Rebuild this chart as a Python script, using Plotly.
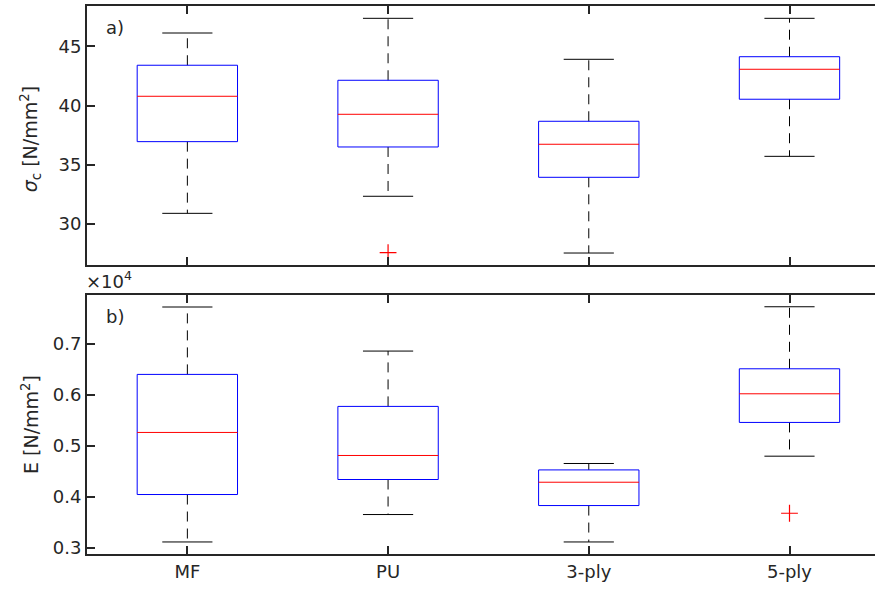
import plotly.graph_objects as go

categories = ["MF", "PU", "3-ply", "5-ply"]

# Panel a) compressive strength sigma_c [N/mm^2]
sigma_lower = [30.90, 32.34, 27.55, 35.71]
sigma_q1 = [36.95, 36.50, 33.94, 40.53]
sigma_median = [40.78, 39.26, 36.73, 43.06]
sigma_q3 = [43.40, 42.13, 38.67, 44.12]
sigma_upper = [46.12, 47.36, 43.90, 47.36]
sigma_outlier_cat = ["PU"]
sigma_outlier_val = [27.58]

# Panel b) modulus E [N/mm^2]
E_lower = [3118, 3655, 3118, 4798]
E_q1 = [4047, 4341, 3831, 5459]
E_median = [5263, 4812, 4288, 6020]
E_q3 = [6400, 5773, 4529, 6510]
E_upper = [7720, 6857, 4655, 7725]
E_outlier_cat = ["5-ply"]
E_outlier_val = [3680]

E_tickvals = [3000, 4000, 5000, 6000, 7000]
E_ticktext = ["0.3", "0.4", "0.5", "0.6", "0.7"]
sigma_tickvals = [30, 35, 40, 45]

INK = "#262626"
FONT = "DejaVu Sans, sans-serif"
BOX_HALF = 0.25
CAP_HALF = 0.125

fig = go.Figure()


def add_boxes(lower, q1, med, q3, upper, out_cat, out_val, xa, ya):
    bx, by, mx, my, wx, wy, cx, cy = [], [], [], [], [], [], [], []
    for i in range(len(categories)):
        p = i + 1
        bx += [p - BOX_HALF, p + BOX_HALF, p + BOX_HALF, p - BOX_HALF, p - BOX_HALF, None]
        by += [q1[i], q1[i], q3[i], q3[i], q1[i], None]
        mx += [p - BOX_HALF, p + BOX_HALF, None]
        my += [med[i], med[i], None]
        wx += [p, p, None, p, p, None]
        wy += [q3[i], upper[i], None, q1[i], lower[i], None]
        cx += [p - CAP_HALF, p + CAP_HALF, None, p - CAP_HALF, p + CAP_HALF, None]
        cy += [upper[i], upper[i], None, lower[i], lower[i], None]
    common = dict(xaxis=xa, yaxis=ya, mode="lines", showlegend=False, hoverinfo="skip")
    fig.add_trace(go.Scatter(x=wx, y=wy, line=dict(color="black", width=1, dash="10px,7px"), **common))
    fig.add_trace(go.Scatter(x=cx, y=cy, line=dict(color="black", width=1), **common))
    fig.add_trace(go.Scatter(x=bx, y=by, line=dict(color="#0000FF", width=1), **common))
    fig.add_trace(go.Scatter(x=mx, y=my, line=dict(color="#FF0000", width=1), **common))
    ox = [categories.index(c) + 1 for c in out_cat]
    fig.add_trace(go.Scatter(x=ox, y=out_val, xaxis=xa, yaxis=ya, mode="markers", showlegend=False,
                             marker=dict(symbol="cross-thin", size=12, line=dict(color="#FF0000", width=1.2))))


add_boxes(sigma_lower, sigma_q1, sigma_median, sigma_q3, sigma_upper,
          sigma_outlier_cat, sigma_outlier_val, "x", "y")
add_boxes(E_lower, E_q1, E_median, E_q3, E_upper,
          E_outlier_cat, E_outlier_val, "x2", "y2")

xrange = [0.5, 4.426]
axis_common = dict(showline=True, linecolor=INK, linewidth=2, ticks="inside", ticklen=8,
                   tickwidth=1.5, tickcolor=INK, showgrid=False, zeroline=False,
                   tickfont=dict(family=FONT, size=18, color=INK))

fig.update_layout(
    width=875, height=592,
    margin=dict(l=87, r=0, t=6, b=38),
    paper_bgcolor="white", plot_bgcolor="white",
    font=dict(family=FONT, color=INK, size=18),
    xaxis=dict(domain=[0, 1], range=xrange, tickvals=[1, 2, 3, 4], showticklabels=False,
               mirror="ticks", anchor="y", **axis_common),
    yaxis=dict(domain=[0.5274, 1], range=[26.54, 48.40], tickvals=sigma_tickvals,
               anchor="x", **axis_common),
    xaxis2=dict(domain=[0, 1], range=xrange, tickvals=[1, 2, 3, 4], ticktext=categories,
                mirror="ticks", anchor="y2", **axis_common),
    yaxis2=dict(domain=[0, 0.4726], range=[2882, 7955], tickvals=E_tickvals,
                ticktext=E_ticktext, anchor="x2", **axis_common),
)

ann_font = dict(family=FONT, size=18, color=INK)
fig.add_annotation(text="a)", xref="paper", yref="paper", x=0.0355, y=0.9599,
                   xanchor="center", yanchor="middle", showarrow=False, font=ann_font)
fig.add_annotation(text="b)", xref="paper", yref="paper", x=0.0355, y=0.4343,
                   xanchor="center", yanchor="middle", showarrow=False, font=ann_font)
fig.add_annotation(text="×10<sup>4</sup>", xref="paper", yref="paper", x=-0.004, y=0.474,
                   xanchor="left", yanchor="bottom", showarrow=False,
                   font=dict(family=FONT, size=18, color=INK))
fig.add_annotation(text="<i>σ</i><sub>c</sub> [N/mm<sup>2</sup>]", xref="paper", yref="paper",
                   x=-0.0723, y=0.757, xanchor="center", yanchor="middle", textangle=-90,
                   showarrow=False, font=dict(family=FONT, size=19, color=INK))
fig.add_annotation(text="E [N/mm<sup>2</sup>]", xref="paper", yref="paper",
                   x=-0.0723, y=0.2354, xanchor="center", yanchor="middle", textangle=-90,
                   showarrow=False, font=dict(family=FONT, size=19, color=INK))

fig.write_html("out.html", config={"displayModeBar": False},
               post_script="document.body.style.margin='0';document.body.style.overflow='hidden';")
